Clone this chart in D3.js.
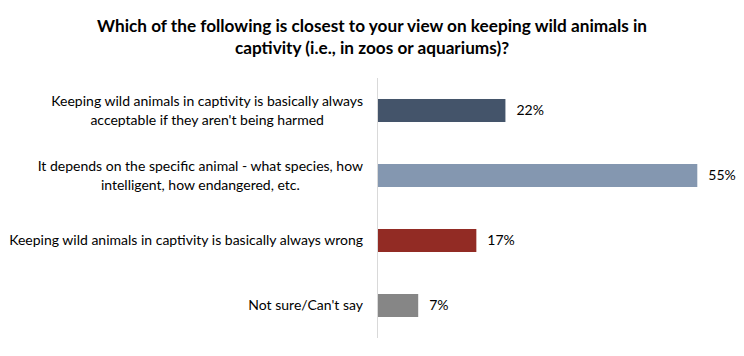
<!DOCTYPE html>
<html>
<head>
<meta charset="utf-8">
<script src="https://cdn.jsdelivr.net/npm/d3@7"></script>
<style>
  html, body { margin: 0; padding: 0; background: #fff; }
  svg { display: block; }
  text { font-family: Lato, "Open Sans", sans-serif; }
</style>
</head>
<body>
<svg id="chart" width="744" height="356"></svg>
<script>
const titleLines = [
  "Which of the following is closest to your view on keeping wild animals in",
  "captivity (i.e., in zoos or aquariums)?"
];
const categories = [
  ["Keeping wild animals in captivity is basically always", "acceptable if they aren't being harmed"],
  ["It depends on the specific animal - what species, how", "intelligent, how endangered, etc."],
  ["Keeping wild animals in captivity is basically always wrong"],
  ["Not sure/Can't say"]
];
const values = [22, 55, 17, 7];
const colors = ["#44546A", "#8497B0", "#922B24", "#868686"];

const svg = d3.select("#chart");

svg.append("g").selectAll("text").data(titleLines).join("text")
  .attr("x", 372)
  .attr("y", (d, i) => 32 + i * 21.5)
  .attr("text-anchor", "middle")
  .attr("font-size", 17.2)
  .attr("font-weight", "bold")
  .attr("fill", "#000")
  .text(d => d);

const x = d3.scaleLinear().domain([0, 55]).range([377.5, 697.3]);
const y = d3.scaleBand().domain(d3.range(values.length)).range([78, 338]).paddingInner(0.646).paddingOuter(0.323);

svg.append("line")
  .attr("x1", x(0)).attr("x2", x(0))
  .attr("y1", y.range()[0]).attr("y2", y.range()[1])
  .attr("stroke", "#d9d9d9").attr("stroke-width", 1);

svg.append("g").selectAll("rect").data(values).join("rect")
  .attr("x", x(0) + 0.5)
  .attr("y", (d, i) => y(i))
  .attr("width", d => x(d) - x(0) - 0.5)
  .attr("height", y.bandwidth())
  .attr("fill", (d, i) => colors[i]);

svg.append("g").selectAll("text").data(values).join("text")
  .attr("x", d => x(d) + 11)
  .attr("y", (d, i) => y(i) + y.bandwidth() / 2)
  .attr("dy", "0.35em")
  .attr("font-size", 14)
  .attr("fill", "#000")
  .text(d => d + "%");

const labelRight = 363;
svg.append("g").selectAll("text").data(categories).join("text")
  .attr("text-anchor", "middle")
  .attr("font-size", 14)
  .attr("fill", "#000")
  .each(function(lines, i) {
    const cy = y(i) + y.bandwidth() / 2;
    const lh = 18.5;
    const t = d3.select(this);
    const spans = lines.map((ln, j) => t.append("tspan")
      .attr("y", cy + (j - (lines.length - 1) / 2) * lh)
      .attr("dy", "0.35em")
      .text(ln));
    const maxW = d3.max(spans, s => s.node().getComputedTextLength());
    spans.forEach(s => s.attr("x", labelRight - maxW / 2));
  });
</script>
</body>
</html>
